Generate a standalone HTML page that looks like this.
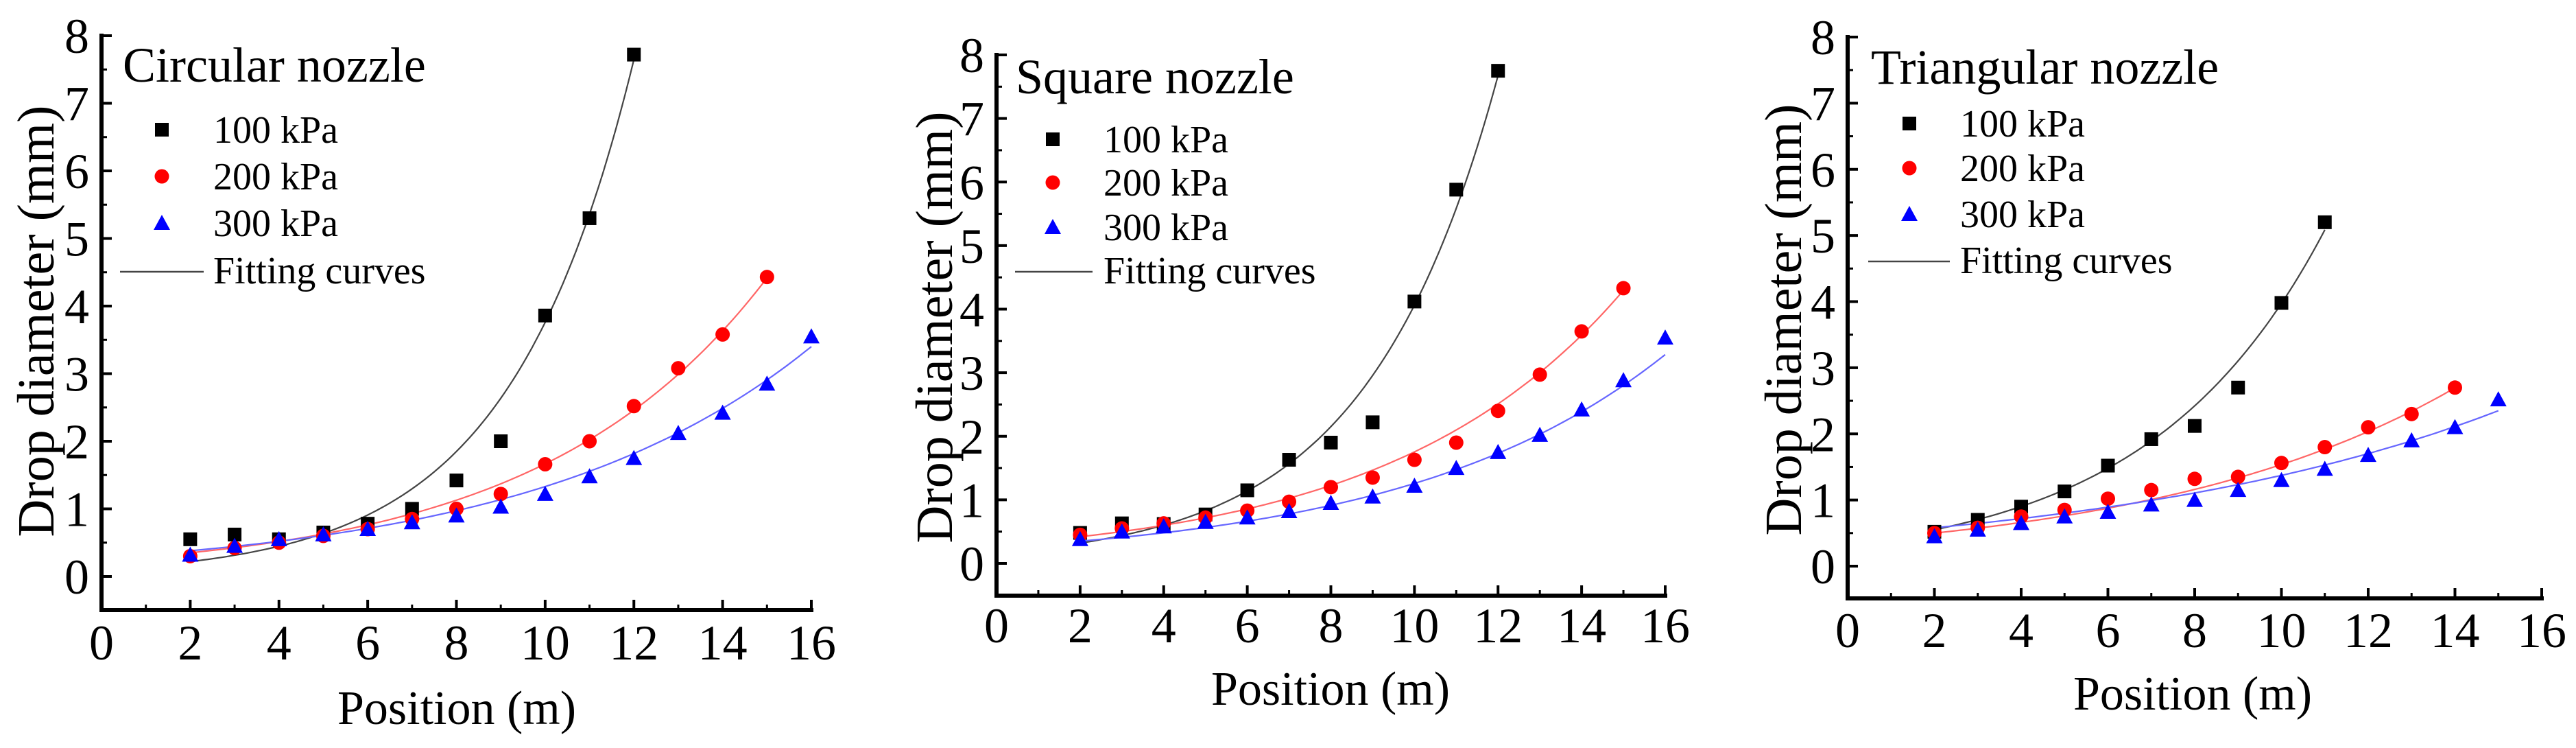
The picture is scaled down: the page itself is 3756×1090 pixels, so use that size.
<!DOCTYPE html>
<html><head><meta charset="utf-8"><style>
html,body{margin:0;padding:0;background:#fff;}
svg{display:block;font-family:"Liberation Serif",serif;}
</style></head><body>
<svg id="fig" width="3756" height="1090" viewBox="0 0 3756 1090" xmlns="http://www.w3.org/2000/svg"></svg>
<script>
// ---- data ----
const xTicks = [0,2,4,6,8,10,12,14,16];
const yTicks = [0,1,2,3,4,5,6,7,8];
const panelTitles = ["Circular nozzle","Square nozzle","Triangular nozzle"];
const seriesNames = ["100 kPa","200 kPa","300 kPa"];
const startX = 2;
const circ100 = [0.55,0.62,0.55,0.65,0.78,1.0,1.42,2.0,3.86,5.3,7.72];
const circ200 = [0.3,0.42,0.5,0.6,0.7,0.85,1.0,1.22,1.66,2.0,2.52,3.08,3.58,4.43];
const circ300 = [0.32,0.45,0.55,0.62,0.7,0.8,0.9,1.03,1.22,1.48,1.75,2.12,2.42,2.85,3.55];
const sq100 = [0.48,0.63,0.62,0.77,1.15,1.63,1.9,2.22,4.12,5.88,7.75];
const sq200 = [0.45,0.55,0.63,0.72,0.83,0.97,1.2,1.35,1.63,1.9,2.4,2.97,3.65,4.33];
const sq300 = [0.38,0.5,0.58,0.65,0.72,0.82,0.95,1.05,1.22,1.5,1.75,2.02,2.42,2.88,3.55];
const tri100 = [0.52,0.7,0.9,1.13,1.52,1.92,2.12,2.7,3.98,5.2];
const tri200 = [0.5,0.58,0.75,0.85,1.02,1.15,1.32,1.35,1.56,1.8,2.1,2.3,2.7];
const tri300 = [0.45,0.55,0.65,0.75,0.82,0.93,1.0,1.15,1.3,1.47,1.68,1.9,2.1,2.52];
// fitting curves y = a*exp(b*x)
const fitA_circ = [0.108,0.237,0.278];
const fitB_circ = [0.355,0.195,0.1565];
const fitA_sq = [0.169,0.293,0.254];
const fitB_sq = [0.318,0.179,0.160];
const fitA_tri = [0.336,0.377,0.468];
const fitB_tri = [0.247,0.1405,0.1076];

const NS="http://www.w3.org/2000/svg";
const svg=document.getElementById('fig');
function mk(tag,attrs,parent){const e=document.createElementNS(NS,tag);for(const k in attrs)e.setAttribute(k,attrs[k]);(parent||svg).appendChild(e);return e;}

const panels=[
 {x0:148,x16:1183,y0:840,y8:52,axisY:889,title:[179,119],leg:{mx:236,tx:311,rows:[189,257,325],fy:396,fx1:175,fx2:297},
  xtb:961,xtitle:[666,1055],ylab:[52,468],data:[circ100,circ200,circ300],A:fitA_circ,B:fitB_circ},
 {x0:1453,x16:2428,y0:821,y8:80,axisY:868,title:[1481,136],leg:{mx:1535,tx:1609,rows:[203,266,331],fy:396,fx1:1480,fx2:1593},
  xtb:936,xtitle:[1940,1027],ylab:[1362,477],data:[sq100,sq200,sq300],A:fitA_sq,B:fitB_sq},
 {x0:2694,x16:3706,y0:825,y8:54,axisY:872,title:[2728,122],leg:{mx:2784,tx:2858,rows:[180,245,312],fy:381,fx1:2724,fx2:2843},
  xtb:943,xtitle:[3197,1034],ylab:[2600,466],data:[tri100,tri200,tri300],A:fitA_tri,B:fitB_tri}
];
const colors=["#000000","#ff0000","#0000ff"];
const lineColors=["#444444","#ff6666","#6666ff"];

function marker(g,k,cx,cy,name){
  let e;
  if(k===0) e=mk('rect',{x:cx-10,y:cy-10,width:20,height:20,fill:colors[0]},g);
  else if(k===1) e=mk('circle',{cx:cx,cy:cy,r:10.5,fill:colors[1]},g);
  else e=mk('polygon',{points:`${cx},${cy-12} ${cx+12},${cy+10} ${cx-12},${cy+10}`,fill:colors[2]},g);
  
  
  return e;
}

panels.forEach((p,pi)=>{
  const g=mk('g',{});
  
  
  const sx=v=>p.x0+(p.x16-p.x0)*v/16;
  const sy=v=>p.y0-(p.y0-p.y8)*v/8;
  p.data.forEach((arr,k)=>{
    let d='';const xEnd=startX+arr.length-1;
    for(let i=0;i<=100;i++){const x=startX+(xEnd-startX)*i/100;const y=p.A[k]*Math.exp(p.B[k]*x);d+=(i?'L':'M')+sx(x).toFixed(1)+','+sy(y).toFixed(1);}
    const c=mk('path',{d:d,fill:'none',stroke:lineColors[k],'stroke-width':2.2},g);
    
    
  });
  p.data.forEach((arr,k)=>{
    arr.forEach((v,i)=>{marker(g,k,sx(startX+i),sy(v),'point-'+(k+1)+'-'+(startX+i));});
  });
  const ax=mk('line',{x1:sx(0),y1:p.axisY,x2:sx(16)+3,y2:p.axisY,stroke:'#000','stroke-width':6},g);
  
  
  const ay=mk('line',{x1:sx(0),y1:p.axisY+3,x2:sx(0),y2:sy(8)-3,stroke:'#000','stroke-width':6},g);
  
  
  xTicks.forEach(t=>{
    mk('line',{x1:sx(t),y1:p.axisY,x2:sx(t),y2:p.axisY-15,stroke:'#000','stroke-width':4},g);
    if(t<16) mk('line',{x1:sx(t+1),y1:p.axisY,x2:sx(t+1),y2:p.axisY-8,stroke:'#000','stroke-width':3},g);
    const tl=mk('text',{x:sx(t),y:p.xtb,'font-size':72,'text-anchor':'middle'},g);tl.textContent=t;
    
    
  });
  yTicks.forEach(t=>{
    mk('line',{x1:sx(0),y1:sy(t),x2:sx(0)+15,y2:sy(t),stroke:'#000','stroke-width':4},g);
    mk('line',{x1:sx(0),y1:sy(t-0.5),x2:sx(0)+8,y2:sy(t-0.5),stroke:'#000','stroke-width':3},g);
    const tl=mk('text',{x:sx(0)-18,y:sy(t)+25,'font-size':72,'text-anchor':'end'},g);tl.textContent=t;
    
    
  });
  const xt=mk('text',{x:p.xtitle[0],y:p.xtitle[1],'font-size':70,'text-anchor':'middle'},g);xt.textContent='Position (m)';
  
  
  const yt=mk('text',{x:0,y:0,'font-size':76,'text-anchor':'middle',transform:`translate(${p.ylab[0]+26},${p.ylab[1]}) rotate(-90)`},g);yt.textContent='Drop diameter (mm)';
  
  
  const tt=mk('text',{x:p.title[0],y:p.title[1],'font-size':72},g);tt.textContent=panelTitles[pi];
  
  
  seriesNames.forEach((n,k)=>{
    marker(g,k,p.leg.mx,p.leg.rows[k],'legend-marker-'+(k+1));
    const lt=mk('text',{x:p.leg.tx,y:p.leg.rows[k]+19,'font-size':56},g);lt.textContent=n;
    
    
  });
  mk('line',{x1:p.leg.fx1,y1:p.leg.fy,x2:p.leg.fx2,y2:p.leg.fy,stroke:'#444','stroke-width':2.5},g);
  const ft=mk('text',{x:p.leg.tx,y:p.leg.fy+17,'font-size':56},g);ft.textContent='Fitting curves';
  
  
});
</script>
</body></html>
